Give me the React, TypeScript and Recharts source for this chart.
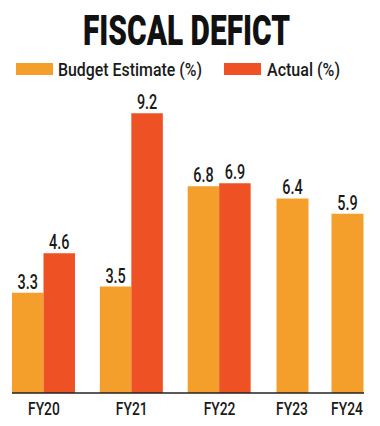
import React from 'react';
import { BarChart, Bar, XAxis, YAxis, LabelList, Legend } from 'recharts';

const groupedYears = ['FY20', 'FY21', 'FY22'];
const groupedBudget = [3.3, 3.5, 6.8];
const groupedActual = [4.6, 9.2, 6.9];
const singleYears = ['FY23', 'FY24'];
const singleBudget = [6.4, 5.9];

const ORANGE = '#F49F2B';
const RED = '#EE5124';
const INK = '#1a1a1a';
const FONT = 'Roboto, "Noto Sans", sans-serif';
const SX = 0.74;

const groupedData = groupedYears.map((year, i) => ({
  year,
  budget: groupedBudget[i],
  actual: groupedActual[i],
}));
const singleData = singleYears.map((year, i) => ({ year, budget: singleBudget[i] }));

const CondText = ({ x, y, size, children }: any) => (
  <text
    transform={`translate(${x},${y}) scale(${SX},1)`}
    textAnchor="middle"
    fontFamily={FONT}
    fontSize={size}
    fontWeight={500}
    fill={INK}
  >
    {children}
  </text>
);

const ValueLabel = (props: any) => {
  const { x, y, width, value } = props;
  if (value == null) return null;
  return (
    <CondText x={Number(x) + Number(width) / 2} y={Number(y) - 4} size={19.5}>
      {Number(value).toFixed(1)}
    </CondText>
  );
};

const Tick = (props: any) => {
  const { x, y, payload } = props;
  return (
    <CondText x={x} y={Number(y) + 22} size={18.7}>
      {payload.value}
    </CondText>
  );
};

const legendSlots: Record<string, { sx: number; tx: number; tw: number }> = {
  budget: { sx: 16, tx: 58, tw: 144 },
  actual: { sx: 224, tx: 267, tw: 73 },
};

const LegendContent = (props: any) => {
  const payload = props.payload || [];
  return (
    <svg width={380} height={26} style={{ display: 'block' }}>
      {payload.map((p: any) => {
        const s = legendSlots[p.dataKey];
        if (!s) return null;
        return (
          <g key={p.dataKey}>
            <rect x={s.sx} y={7} width={37} height={12} fill={p.color} />
            <text
              x={s.tx}
              y={19.5}
              fontFamily={FONT}
              fontSize={18}
              fontWeight={500}
              fill={INK}
              textLength={s.tw}
              lengthAdjust="spacingAndGlyphs"
            >
              {p.value}
            </text>
          </g>
        );
      })}
    </svg>
  );
};

const axisProps = {
  dataKey: 'year',
  tickLine: false,
  tickSize: 0,
  tickMargin: 0,
  height: 33,
  axisLine: { stroke: '#222', strokeWidth: 1.5 },
  tick: <Tick />,
  interval: 0 as const,
};

export default function App() {
  return (
    <div
      style={{
        position: 'absolute',
        left: 0,
        top: 0,
        width: 380,
        height: 426,
        background: '#fff',
        overflow: 'hidden',
      }}
    >
      <svg
        width={380}
        height={56}
        style={{ position: 'absolute', left: 0, top: 0 }}
      >
        <text
          x={83}
          y={45}
          fontFamily={FONT}
          fontWeight={900}
          fontSize={42}
          fill="#111"
          textLength={207}
          lengthAdjust="spacingAndGlyphs"
        >
          FISCAL DEFICT
        </text>
      </svg>

      <div style={{ position: 'absolute', left: 0, top: 0 }}>
        <BarChart
          width={380}
          height={426}
          data={groupedData}
          margin={{ top: 89, right: 116, bottom: 0, left: 12 }}
          barGap={0}
        >
          <XAxis {...axisProps} padding={{ left: -12, right: 0.5 }} />
          <YAxis hide domain={[0, 10]} />
          <Legend
            verticalAlign="middle"
            align="center"
            layout="horizontal"
            content={<LegendContent />}
            wrapperStyle={{ position: 'absolute', top: 56, left: 0, width: 380 }}
          />
          <Bar
            dataKey="budget"
            name="Budget Estimate (%)"
            fill={ORANGE}
            barSize={31.5}
            isAnimationActive={false}
          >
            <LabelList dataKey="budget" content={<ValueLabel />} />
          </Bar>
          <Bar
            dataKey="actual"
            name="Actual (%)"
            fill={RED}
            barSize={31.5}
            isAnimationActive={false}
          >
            <LabelList dataKey="actual" content={<ValueLabel />} />
          </Bar>
        </BarChart>
      </div>

      <div style={{ position: 'absolute', left: 264, top: 0 }}>
        <BarChart
          width={116}
          height={426}
          data={singleData}
          margin={{ top: 89, right: 16, bottom: 0, left: 0 }}
          barGap={0}
        >
          <XAxis {...axisProps} padding={{ left: 0.5, right: -10.5 }} />
          <YAxis hide domain={[0, 10]} />
          <Bar
            dataKey="budget"
            name="Budget Estimate (%)"
            fill={ORANGE}
            barSize={32}
            isAnimationActive={false}
          >
            <LabelList dataKey="budget" content={<ValueLabel />} />
          </Bar>
        </BarChart>
      </div>
    </div>
  );
}
